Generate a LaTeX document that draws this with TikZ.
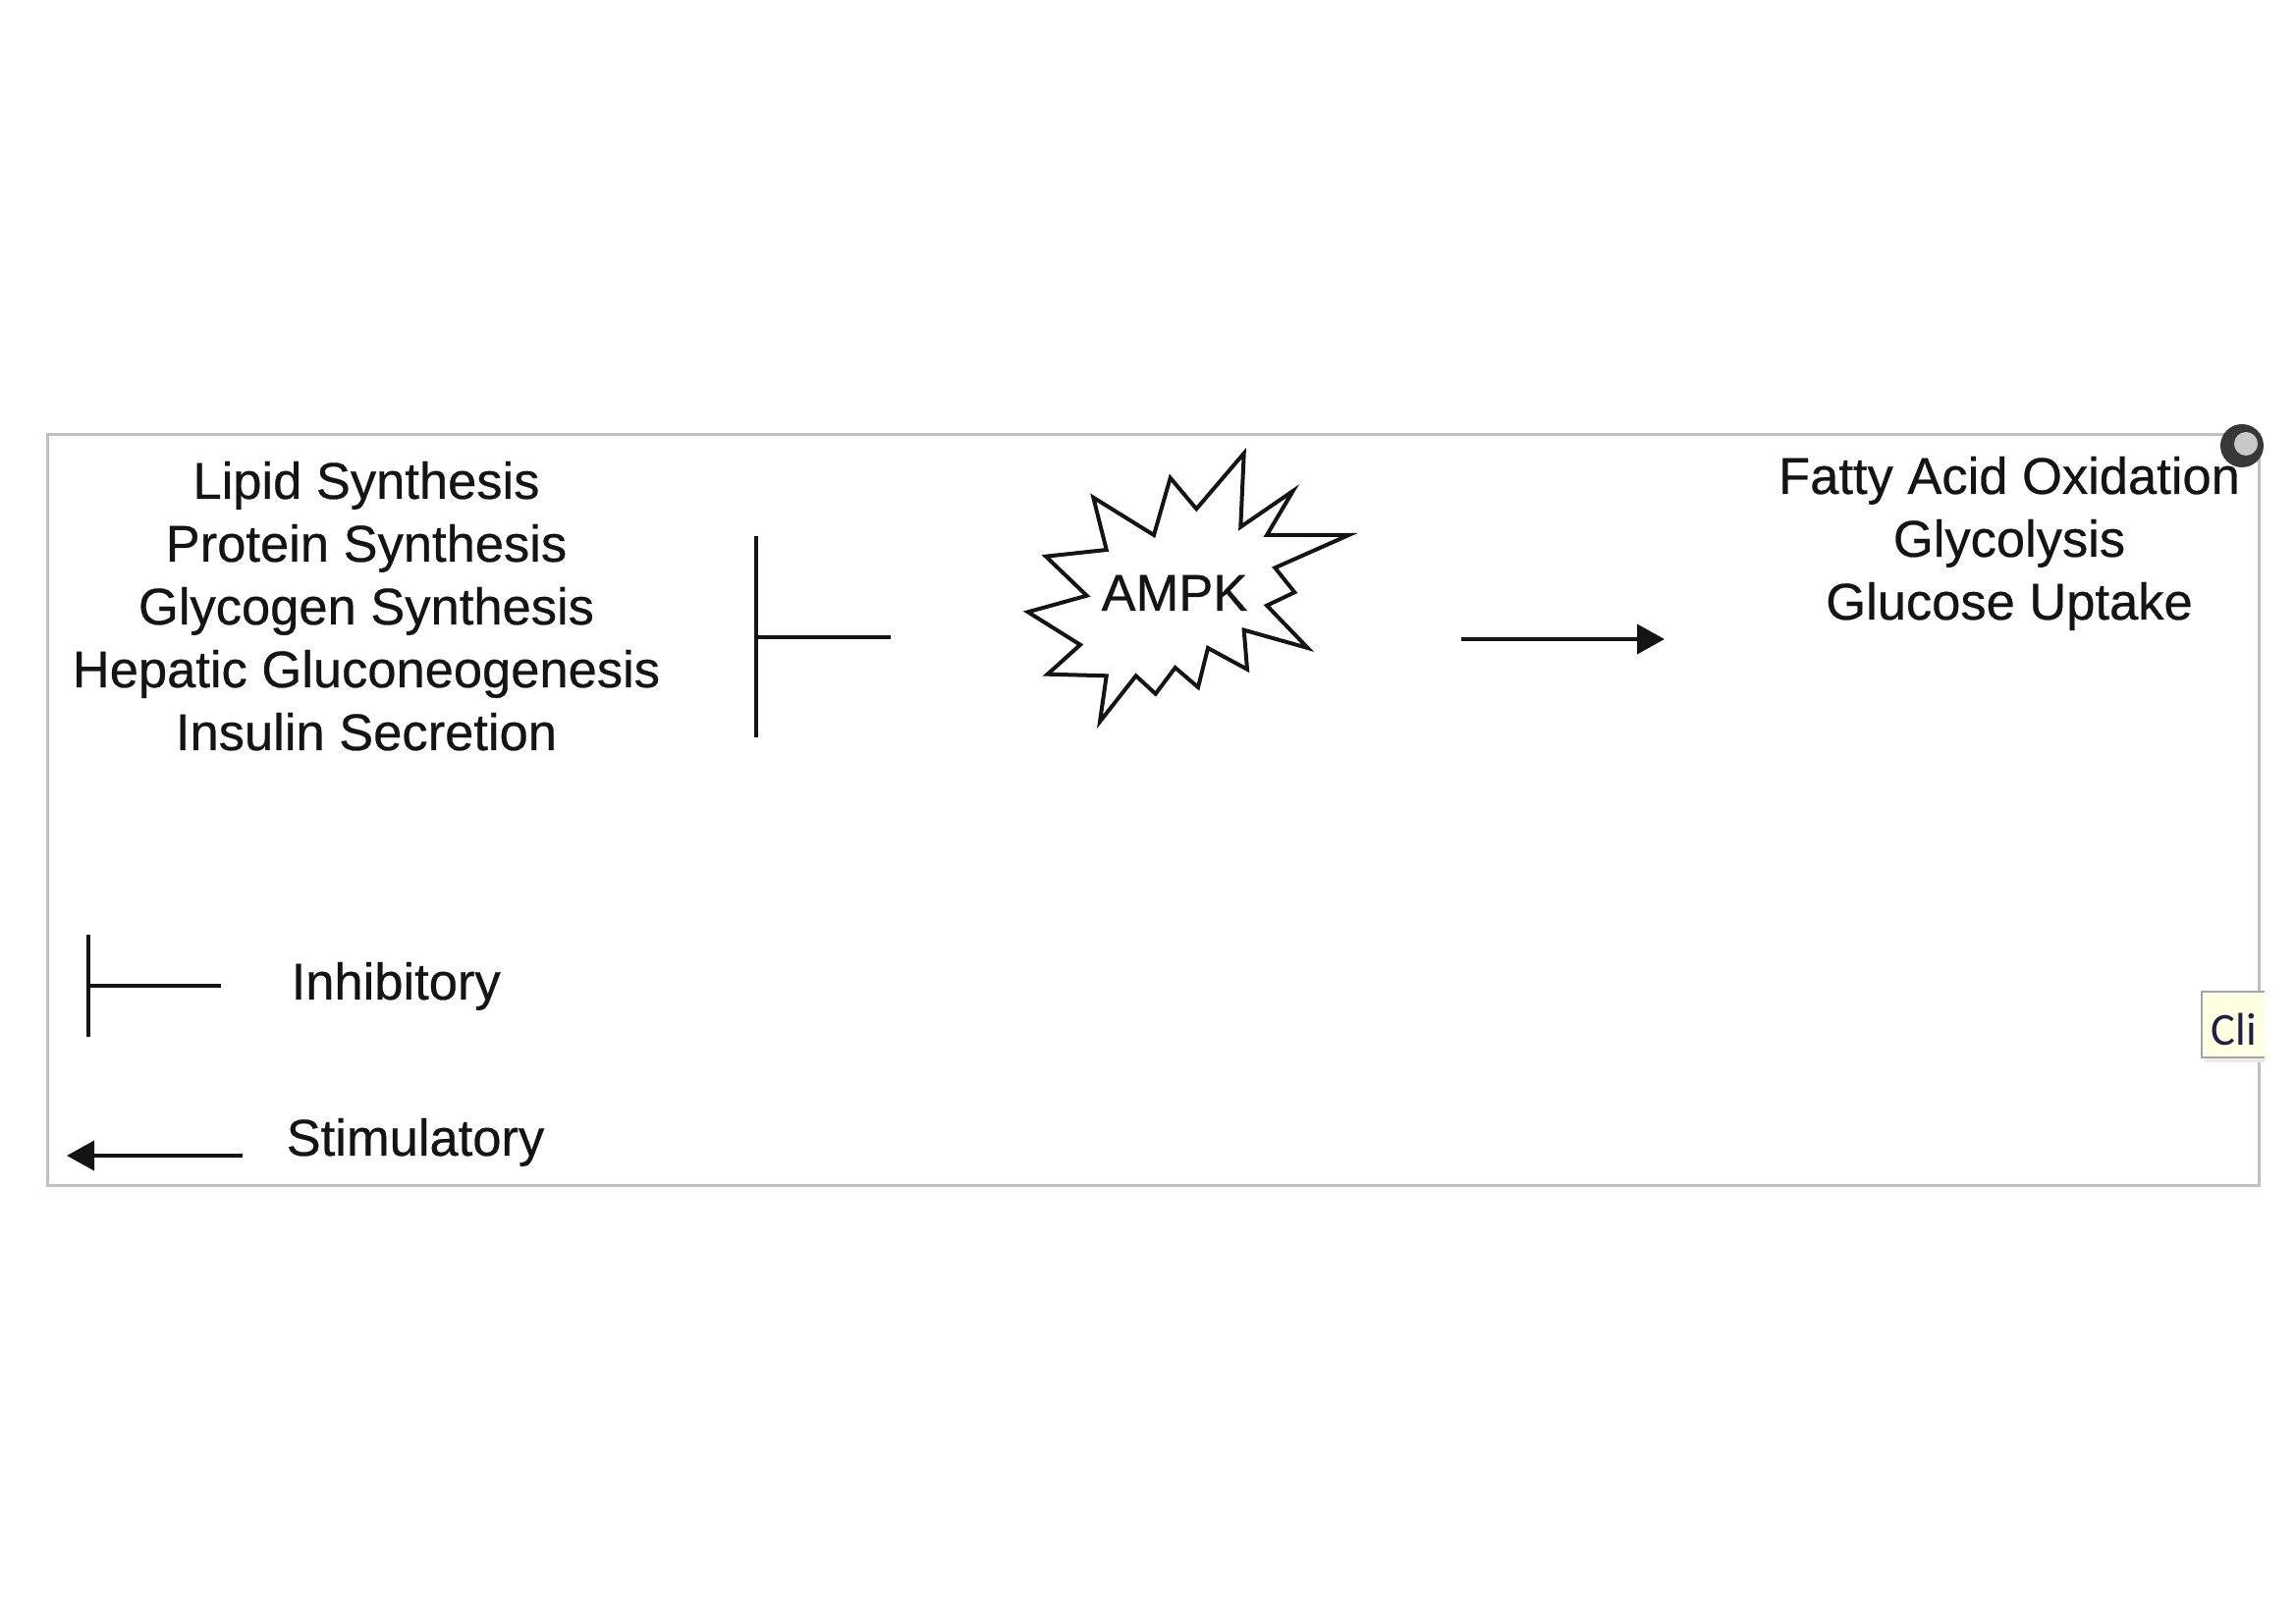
\documentclass[tikz,border=0pt]{standalone}
\usepackage{fontspec}
\setmainfont{Liberation Sans}[FakeBold=0.5]
\newfontfamily\tipfont{Carlito}
\usetikzlibrary{arrows.meta}
\definecolor{framegray}{RGB}{192,192,192}
\definecolor{tipfill}{RGB}{255,255,225}
\definecolor{tipborder}{RGB}{165,165,165}
\definecolor{ringdark}{RGB}{55,55,55}
\definecolor{ringlight}{RGB}{200,200,200}
\definecolor{tiptext}{RGB}{30,30,70}
\definecolor{ink}{RGB}{20,20,20}
\begin{document}
\begin{tikzpicture}[x=0.3pt,y=-0.3pt,
  txt/.style={font=\fontsize{15.75pt}{19.2pt}\selectfont, text=ink, inner sep=0pt, anchor=base},
  legtxt/.style={txt, anchor=base west},
  inhib/.style={draw=ink, line width=1.2pt, -{Bar[width=#1, line width=1.2pt]}},
  stim/.style={draw=ink, line width=1.2pt, -{Triangle[length=8.4pt, width=9pt]}},
  burst/.style={draw=ink, line width=1.2pt, line join=miter, miter limit=30, fill=white}]
\useasboundingbox[fill=white] (0,0) rectangle (2338,1652);
% frame
\draw[framegray, line width=0.9pt] (48,443) rectangle (2300,1208);
% left block
\node[txt] (l1) at (373,508) {Lipid Synthesis};
\node[txt] (l2) at (373,572) {Protein Synthesis};
\node[txt] (l3) at (373,636) {Glycogen Synthesis};
\node[txt] (l4) at (373,700) {Hepatic Gluconeogenesis};
\node[txt] (l5) at (373,764) {Insulin Secretion};
% right block
\node[txt] (r1) at (2046,503) {Fatty Acid Oxidation};
\node[txt] (r2) at (2046,567) {Glycolysis};
\node[txt] (r3) at (2046,631) {Glucose Uptake};
% starburst
\draw[burst] (1266.7,461.7) -- (1263.3,536.7) -- (1316.7,500) -- (1290,545) -- (1373.3,545)
  -- (1298.3,578.3) -- (1318.3,603.3) -- (1290,616.7) -- (1331.7,660) -- (1266.7,641.7)
  -- (1270,681.7) -- (1230,660) -- (1220,700) -- (1196.7,680) -- (1176.7,706.7)
  -- (1156.7,688.3) -- (1120,735) -- (1126.7,688.3) -- (1066.7,686.7) -- (1100,656.7)
  -- (1046.7,623.3) -- (1106.7,606.7) -- (1065,566.7) -- (1126.7,560) -- (1113.3,506.7)
  -- (1175,545) -- (1191.7,486.7) -- (1218.3,518.3) -- cycle;
\node[txt] (ampk) at (1196,622) {AMPK};
% connectors
\coordinate (inhA) at (907,649);
\coordinate (inhB) at (768,649);
\draw[inhib=61.5pt] (inhA) -- (inhB);
\coordinate (stA) at (1488,651);
\coordinate (stB) at (1695,651);
\draw[stim] (stA) -- (stB);
% legend
\coordinate (lgA) at (225,1004);
\coordinate (lgB) at (88,1004);
\draw[inhib=31.2pt] (lgA) -- (lgB);
\node[legtxt] (inhtxt) at (296,1018) {Inhibitory};
\coordinate (lsA) at (247,1177);
\coordinate (lsB) at (68,1177);
\draw[stim] (lsA) -- (lsB);
\node[legtxt] (stimtxt) at (291,1177) {Stimulatory};
% top-right icon (clipped)
\begin{scope}
  \clip (2200,400) rectangle (2306,500);
  \fill[ringdark] (2283,454) circle (22);
  \fill[ringlight] (2287,452) circle (12);
\end{scope}
% tooltip (clipped)
\begin{scope}
  \clip (2200,950) rectangle (2306,1100);
  \fill[black!8] (2245,1013) rectangle (2340,1082);
  \draw[tipborder, fill=tipfill, line width=0.6pt] (2242,1010) rectangle (2340,1077);
  \node[font=\tipfont\fontsize{14pt}{16pt}\selectfont, text=tiptext, anchor=base west, inner sep=0pt] (tip) at (2251,1065) {Cli};
\end{scope}
\end{tikzpicture}
\end{document}
